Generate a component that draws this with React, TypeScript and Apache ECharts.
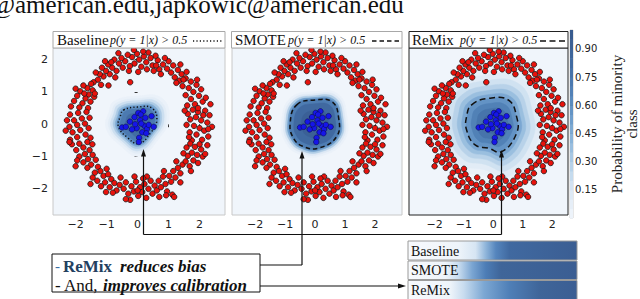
import React, { useEffect, useRef } from 'react';
import * as echarts from 'echarts';

// ---------- data ----------
const panelNames = ['Baseline', 'SMOTE', 'ReMix'];
const axisTickValues = [-2, -1, 0, 1, 2];
const colorbarTickValues = [0.15, 0.3, 0.45, 0.6, 0.75, 0.9];
const colorbarLevels = [0, 0.05, 0.1, 0.15, 0.2, 0.25, 0.3, 0.35, 0.4, 0.45, 0.5, 0.55, 0.6, 0.65, 0.7, 0.75, 0.8, 0.85, 0.9, 0.95, 1];

// majority class (red ring), same sample in every panel
const majorityPoints: number[][] = [
  [1.62, 0.32], [1.78, 0.45], [1.95, 0.38], [2.18, 0.42], [2.32, 0.28], [1.7, 0.15], [1.88, 0.22], [2.05, 0.12], [2.25, 0.05], [1.58, -0.02],
  [1.82, -0.05], [2.0, -0.12], [2.4, -0.08], [2.15, -0.2], [1.68, -0.25], [1.9, -0.32], [2.28, -0.38], [1.75, -0.5], [2.08, -0.48],
  [1.6, 0.58], [1.85, 0.62], [2.1, 0.7], [1.72, 0.78], [1.98, 0.88], [1.55, 0.9], [1.8, 1.0], [2.05, 1.08], [1.65, 1.12], [1.9, 1.22],
  [1.45, 1.18], [1.72, 1.32], [1.55, 1.42], [1.35, 1.35], [1.95, 0.5], [2.2, 0.82],
  [1.42, 1.55], [1.2, 1.45], [1.3, 1.68], [1.08, 1.6], [1.15, 1.82], [0.95, 1.72], [1.0, 1.95], [0.82, 1.85], [0.88, 2.05], [0.7, 1.7],
  [0.65, 1.98], [0.58, 2.12], [1.25, 1.28], [1.48, 1.38], [0.75, 1.55],
  [0.48, 1.82], [0.42, 2.05], [0.35, 2.22], [0.28, 1.92], [0.2, 2.1], [0.12, 1.78], [0.05, 2.0], [-0.02, 2.18], [-0.1, 1.88], [-0.18, 2.08],
  [-0.25, 1.8], [-0.32, 2.15], [-0.4, 1.95], [-0.48, 1.75], [-0.52, 2.05], [0.02, 1.62], [0.3, 1.7], [-0.28, 1.65], [0.18, 2.25],
  [-0.6, 1.88], [-0.68, 1.65], [-0.75, 2.0], [-0.82, 1.75], [-0.9, 1.55], [-0.95, 1.85], [-1.02, 1.65], [-1.1, 1.48], [-1.15, 1.75], [-1.22, 1.55],
  [-1.28, 1.38], [-1.35, 1.6], [-1.42, 1.3], [-0.72, 1.45], [-1.05, 1.95],
  [-1.5, 1.25], [-1.62, 1.12], [-1.45, 1.05], [-1.75, 1.2], [-1.58, 0.92], [-1.85, 1.02], [-1.68, 0.8], [-1.95, 0.88], [-1.52, 0.7], [-1.78, 0.65],
  [-2.05, 0.72], [-1.88, 0.52], [-1.6, 0.5], [-2.15, 0.55], [-1.4, 0.85], [-2.0, 1.1],
  [-1.65, 0.38], [-1.92, 0.35], [-2.18, 0.3], [-1.55, 0.2], [-1.8, 0.18], [-2.05, 0.12], [-1.7, 0.02], [-1.95, -0.02], [-2.2, -0.08], [-1.58, -0.12],
  [-1.85, -0.18], [-2.1, -0.25], [-1.68, -0.32], [-1.95, -0.4], [-2.18, -0.48], [-1.52, -0.42],
  [-1.62, -0.55], [-1.88, -0.6], [-2.12, -0.62], [-1.75, -0.72], [-1.55, -0.8], [-1.98, -0.8], [-1.7, -0.92], [-1.45, -0.95], [-1.88, -1.0], [-1.6, -1.08],
  [-1.35, -1.1], [-1.75, -1.18], [-1.5, -1.25], [-1.28, -1.32], [-1.62, -1.35], [-1.95, -1.12],
  [-1.38, -1.5], [-1.2, -1.45], [-1.45, -1.65], [-1.1, -1.6], [-1.3, -1.75], [-0.95, -1.55], [-1.05, -1.8], [-0.85, -1.7], [-1.18, -1.92], [-0.9, -1.95],
  [-0.75, -1.82], [-0.68, -2.05], [-0.58, -1.88], [-0.8, -2.12], [-1.0, -1.38], [-0.55, -1.65],
  [-0.45, -2.0], [-0.38, -1.8], [-0.3, -2.15], [-0.24, -2.34], [-0.2, -1.92], [-0.12, -2.08], [-0.05, -1.78], [0.02, -2.22], [0.08, -1.95], [0.15, -2.1],
  [0.22, -1.85], [0.28, -2.28], [0.35, -2.0], [0.42, -1.75], [0.48, -2.15], [0.55, -1.9], [-0.1, -1.62], [0.3, -1.62], [0.0, -2.05],
  [0.62, -2.05], [0.68, -1.75], [0.75, -1.95], [0.82, -1.62], [0.9, -1.85], [0.95, -2.08], [1.02, -1.6], [1.08, -1.78], [1.15, -1.45], [1.22, -1.65],
  [1.3, -1.35], [1.38, -1.52], [1.45, -1.25], [0.85, -1.45], [1.12, -2.18], [0.7, -2.25],
  [1.55, -1.15], [1.68, -1.3], [1.62, -0.98], [1.8, -1.12], [1.95, -1.2], [1.75, -0.88], [1.92, -0.95], [2.1, -1.0], [1.58, -0.72], [1.85, -0.7],
  [2.05, -0.78], [2.25, -0.65], [1.7, -0.6], [1.48, -0.9], [2.18, -0.92],
  [-0.24, 1.3], [-0.94, 1.2], [1.18, -2.25], [2.35, 0.62], [-2.2, -0.55],
  [1.52, 0.42], [2.12, 0.28], [1.66, -0.4], [2.0, -0.62], [1.92, 1.38], [1.38, 1.85], [0.52, 1.65], [-0.12, 2.3], [-0.62, 2.2], [-1.18, 1.22],
  [-1.72, 0.95], [-2.28, 0.12], [-1.46, -0.62], [-2.0, -1.3], [-1.52, -1.85], [-0.38, -2.32], [0.18, -1.68], [0.92, -2.2], [1.38, -1.8], [1.72, -1.45],
  [2.28, -0.15], [-1.02, -2.1], [-2.32, -0.2], [0.6, 1.82], [-0.85, 1.92], [1.58, 1.62], [-1.38, 0.95], [1.25, -1.15],
];

// minority class (blue centre)
const minorityPoints: number[][] = [
  [-0.5, -0.1], [-0.38, -0.08], [-0.25, 0.08], [-0.1, 0.22], [0.02, 0.35], [0.08, 0.12], [0.18, 0.4], [0.25, 0.2], [0.22, -0.05], [0.3, -0.15],
  [0.36, -0.02], [0.15, -0.25], [0.05, -0.42], [0.04, -0.55], [-0.03, -0.12], [-0.18, -0.16], [0.45, 0.25], [0.52, -0.08], [0.12, 0.02], [0.28, -0.28],
  [-0.08, 0.0], [0.1, 0.3],
];

// p(y=1|x) = 0.5 contours
const baselineContour: number[][] = [[-0.45, 0.44], [0, 0.53], [0.46, 0.5], [0.62, 0.13], [0.41, -0.28], [0.03, -0.6], [-0.34, -0.4], [-0.62, -0.07], [-0.56, 0.24]];
const smoteContour: number[][] = [[-0.61, 0.6], [0, 0.75], [0.56, 0.7], [0.78, 0.24], [0.72, -0.38], [0.11, -0.74], [-0.39, -0.69], [-0.72, -0.43], [-0.83, 0.03]];
const remixContour: number[][] = [[-0.74, 0.6], [-0.17, 0.8], [0.51, 0.75], [0.79, 0.24], [0.79, -0.28], [0.28, -0.85], [-0.17, -0.74], [-0.62, -0.64], [-0.91, -0.18], [-0.91, 0.24]];

// probability field: [scale of contour shape, probability]
const baselineLayers: number[][] = [[1.65, 0.04], [1.5, 0.1], [1.38, 0.2], [1.25, 0.32], [1.14, 0.46], [1.05, 0.6], [0.9, 0.72], [0.65, 0.82], [0.4, 0.88]];
const smoteLayers: number[][] = [[1.35, 0.04], [1.26, 0.12], [1.18, 0.3], [1.1, 0.52], [1.03, 0.7], [0.85, 0.84], [0.55, 0.92]];
const remixLayers: number[][] = [[2.15, 0.04], [1.9, 0.1], [1.68, 0.18], [1.48, 0.27], [1.3, 0.37], [1.14, 0.48], [0.98, 0.58], [0.8, 0.68], [0.6, 0.76], [0.38, 0.83]];

// calibration strips: [offset, colour]
const calibBaseline: [number, string][] = [[0, '#f8fafd'], [0.3, '#eef4fa'], [0.4, '#d6e5f3'], [0.46, '#8fb5da'], [0.52, '#5585bd'], [0.6, '#4069a0'], [1, '#3b5e93']];
const calibSmote: [number, string][] = [[0, '#f8fafd'], [0.22, '#eef4fa'], [0.3, '#c8dcef'], [0.38, '#7aa5d2'], [0.46, '#4d7db6'], [0.55, '#3f6599'], [1, '#3b5e93']];
const calibRemix: [number, string][] = [[0, '#f8fafd'], [0.25, '#eef4fa'], [0.33, '#c8dcef'], [0.45, '#7ca7d3'], [0.6, '#4f7fb7'], [0.78, '#3f6599'], [1, '#3b5e93']];

// ---------- styling ----------
const cmapStops: [number, string][] = [
  [0, '#f0f5fb'], [0.1, '#e2ecf6'], [0.2, '#ccdff0'], [0.3, '#b0cde6'], [0.4, '#91b9dc'], [0.5, '#75a3cf'],
  [0.6, '#5e8fc2'], [0.7, '#4e7db3'], [0.8, '#436ea5'], [0.9, '#3c6298'], [1, '#37598c'],
];
function hex(h: string) {
  return [parseInt(h.slice(1, 3), 16), parseInt(h.slice(3, 5), 16), parseInt(h.slice(5, 7), 16)];
}
function cmap(p: number) {
  const v = Math.max(0, Math.min(1, p));
  for (let i = 0; i < cmapStops.length - 1; i++) {
    const [a, ca] = cmapStops[i];
    const [b, cb] = cmapStops[i + 1];
    if (v <= b) {
      const t = (v - a) / (b - a);
      const A = hex(ca), B = hex(cb);
      const c = A.map((x, k) => Math.round(x + (B[k] - x) * t));
      return `rgb(${c[0]},${c[1]},${c[2]})`;
    }
  }
  return cmapStops[cmapStops.length - 1][1];
}

const SERIF = "'Liberation Serif', 'Times New Roman', serif";
const SANS = "'DejaVu Sans', sans-serif";
const fmtAxis = (v: number) => (v < 0 ? '\u2212' + Math.abs(v) : String(v));

const panelGrids = [
  { left: 53, top: 48, width: 172, height: 167, border: '#c8c8c8' },
  { left: 232, top: 48, width: 170, height: 167, border: '#c8c8c8' },
  { left: 409, top: 48, width: 159, height: 167, border: '#222' },
];
const xRanges = [[-2.73, 2.82], [-2.77, 2.9], [-2.87, 2.54]];
const yRange = [-2.81, 2.36];
const contours = [baselineContour, smoteContour, remixContour];
const layers = [baselineLayers, smoteLayers, remixLayers];
const dashes = [[1.2, 2.2], [4.5, 3], [6, 3.5]];

function buildOption() {
  const grid: any[] = panelGrids.map((g) => ({
    left: g.left, top: g.top, width: g.width, height: g.height,
    show: true, backgroundColor: cmap(0), borderColor: g.border, borderWidth: 1,
  }));
  grid.push({ left: 570, top: 30, width: 12, height: 188, show: true, borderColor: '#d0d0d0', borderWidth: 1, backgroundColor: 'transparent' });

  const xAxis: any[] = panelGrids.map((_, i) => ({
    type: 'value', gridIndex: i, min: xRanges[i][0], max: xRanges[i][1],
    splitLine: { show: false }, axisLine: { show: false },
    axisTick: { show: true, length: 3, lineStyle: { color: '#333' }, customValues: axisTickValues },
    axisLabel: { customValues: axisTickValues, formatter: fmtAxis, fontFamily: SANS, fontSize: 11, color: '#222', margin: 4 },
  }));
  xAxis.push({ type: 'value', gridIndex: 3, min: 0, max: 1, show: false });

  const yAxis: any[] = panelGrids.map((_, i) => ({
    type: 'value', gridIndex: i, min: yRange[0], max: yRange[1],
    splitLine: { show: false }, axisLine: { show: false },
    axisTick: { show: true, length: 3, lineStyle: { color: '#333' }, customValues: axisTickValues },
    axisLabel: { show: i === 0, customValues: axisTickValues, formatter: fmtAxis, fontFamily: SANS, fontSize: 11, color: '#222', margin: 5 },
  }));
  yAxis.push({
    type: 'value', gridIndex: 3, min: 0, max: 1, position: 'right',
    splitLine: { show: false }, axisLine: { show: false },
    axisTick: { show: true, length: 3, lineStyle: { color: '#333' }, customValues: colorbarTickValues },
    axisLabel: { customValues: colorbarTickValues, formatter: (v: number) => v.toFixed(2), fontFamily: SANS, fontSize: 10, color: '#222', margin: 2 },
    name: 'Probability of minority\nclass', nameLocation: 'middle', nameRotate: 90, nameGap: 36,
    nameTextStyle: { fontFamily: SERIF, fontSize: 15, color: '#222', lineHeight: 15 },
  });

  const series: any[] = [];
  panelGrids.forEach((_, i) => {
    const contour = contours[i];
    series.push({
      type: 'custom', xAxisIndex: i, yAxisIndex: i, clip: true, silent: true, z: 1,
      data: layers[i],
      renderItem: (params: any, api: any) => {
        const s = api.value(0);
        const p = api.value(1);
        const pts = contour.map(([x, y]) => api.coord([x * s, y * s]));
        return { type: 'polygon', shape: { points: pts, smooth: 0.45 }, style: { fill: cmap(p), stroke: cmap(p), lineWidth: 0.5 } };
      },
    });
    series.push({
      type: 'custom', xAxisIndex: i, yAxisIndex: i, clip: true, silent: true, z: 3,
      data: [[0, 0.5]],
      renderItem: (params: any, api: any) => {
        const pts = contour.map(([x, y]) => api.coord([x, y]));
        return { type: 'polygon', shape: { points: pts, smooth: 0.45 }, style: { fill: 'none', stroke: '#111', lineWidth: 1.5, lineDash: dashes[i] } };
      },
    });
    series.push({
      type: 'scatter', xAxisIndex: i, yAxisIndex: i, data: majorityPoints, symbolSize: 5.5, z: 4, silent: true,
      itemStyle: { color: '#e8120c', borderColor: '#1a1a1a', borderWidth: 0.8, opacity: 1 },
    });
    series.push({
      type: 'scatter', xAxisIndex: i, yAxisIndex: i, data: minorityPoints, symbolSize: 5.5, z: 5, silent: true,
      itemStyle: { color: '#1616e8', borderColor: '#0a0a50', borderWidth: 0.6, opacity: 1 },
    });
  });
  series.push({
    type: 'custom', xAxisIndex: 3, yAxisIndex: 3, silent: true, z: 1,
    data: colorbarLevels.slice(0, -1).map((lo, k) => [lo, colorbarLevels[k + 1]]),
    renderItem: (params: any, api: any) => {
      const lo = api.value(0), hi = api.value(1);
      const a = api.coord([0, lo]);
      const b = api.coord([1, hi]);
      return { type: 'rect', shape: { x: a[0], y: b[1], width: b[0] - a[0], height: a[1] - b[1] + 0.5 }, style: { fill: cmap((lo + hi) / 2) } };
    },
  });

  const txt = (x: number, y: number, text: string, size: number, fill = '#111', fontStyle = 'normal', fontWeight = 'normal') => ({
    type: 'text', x, y, z: 100,
    style: {
      text, fill, fontFamily: SERIF, fontSize: size, fontStyle, fontWeight,
      align: 'left', verticalAlign: 'middle', textAlign: 'left', textVerticalAlign: 'middle',
    },
  });
  const line = (x1: number, y1: number, x2: number, y2: number, dash?: number[], w = 1.2) => ({
    type: 'line', z: 100, shape: { x1, y1, x2, y2 }, style: { stroke: '#111', lineWidth: w, lineDash: dash || null },
  });
  const poly = (points: number[][]) => ({ type: 'polygon', z: 101, shape: { points }, style: { fill: '#111' } });

  const titleBoxes = [
    { x: 53, w: 172, border: '#a8a8a8', tx: 57, mx: 110, lx1: 193, lx2: 223 },
    { x: 231.5, w: 170.5, border: '#a8a8a8', tx: 235, mx: 288, lx1: 372, lx2: 400 },
    { x: 409, w: 159, border: '#222', tx: 412, mx: 460, lx1: 540, lx2: 567 },
  ];
  const graphic: any[] = [];
  graphic.push(txt(-8, 4, '@american.edu,japkowic@american.edu', 25));
  titleBoxes.forEach((b, i) => {
    graphic.push({ type: 'rect', z: 99, shape: { x: b.x, y: 31.5, width: b.w, height: 16.5 }, style: { fill: '#fff', stroke: b.border, lineWidth: 1 } });
    graphic.push(txt(b.tx, 40, panelNames[i], 15));
    graphic.push(txt(b.mx, 40, 'p(y = 1|x) > 0.5', 12, '#111', 'italic'));
    graphic.push(line(b.lx1, 41, b.lx2, 41, dashes[i], 1.3));
  });

  // connectors
  graphic.push(line(143.5, 155, 143.5, 234.5));
  graphic.push(poly([[143.5, 149], [141, 156.5], [146, 156.5]]));
  graphic.push(line(302, 157, 302, 265));
  graphic.push(poly([[302, 151], [299.5, 158.5], [304.5, 158.5]]));
  graphic.push(line(501.5, 156, 501.5, 234.5));
  graphic.push(poly([[501.5, 150], [499, 157.5], [504, 157.5]]));
  graphic.push(line(143.5, 234.5, 501.5, 234.5));
  graphic.push(line(260, 265, 302, 265));
  graphic.push(line(260, 286, 399, 286));
  graphic.push(poly([[406, 286], [398, 283.5], [398, 288.5]]));

  // annotation box
  graphic.push({ type: 'rect', z: 99, shape: { x: 52, y: 254, width: 208, height: 38 }, style: { fill: '#fff', stroke: '#111', lineWidth: 1 } });
  graphic.push(txt(55, 266, '-', 15, '#3a6ea5'));
  graphic.push(txt(63, 266, 'ReMix', 17, '#23405f', 'normal', 'bold'));
  graphic.push(txt(120, 266, 'reduces bias', 17, '#111', 'italic', 'bold'));
  graphic.push(txt(55, 285, '- And,', 17));
  graphic.push(txt(103, 285, 'improves calibration', 17, '#111', 'italic', 'bold'));

  // calibration strips
  const strips = [
    { y: 241, h: 19, stops: calibBaseline },
    { y: 261, h: 18.5, stops: calibSmote },
    { y: 280.5, h: 19, stops: calibRemix },
  ];
  strips.forEach((s, i) => {
    graphic.push({
      type: 'rect', z: 99, shape: { x: 408, y: s.y, width: 169, height: s.h },
      style: {
        fill: { type: 'linear', x: 0, y: 0, x2: 1, y2: 0, colorStops: s.stops.map(([o, c]) => ({ offset: o, color: c })) },
        stroke: '#9a9a9a', lineWidth: 1,
      },
    });
    graphic.push(txt(411, s.y + s.h / 2 + 0.5, panelNames[i], 14));
  });

  return { animation: false, backgroundColor: '#fff', grid, xAxis, yAxis, series, graphic };
}

export default function App() {
  const ref = useRef<HTMLDivElement>(null);
  useEffect(() => {
    if (!ref.current) return;
    const chart = echarts.init(ref.current, undefined, { renderer: 'svg' });
    chart.setOption(buildOption() as any);
    return () => chart.dispose();
  }, []);
  return <div ref={ref} style={{ position: 'absolute', left: 0, top: 0, width: 640, height: 299 }} />;
}
